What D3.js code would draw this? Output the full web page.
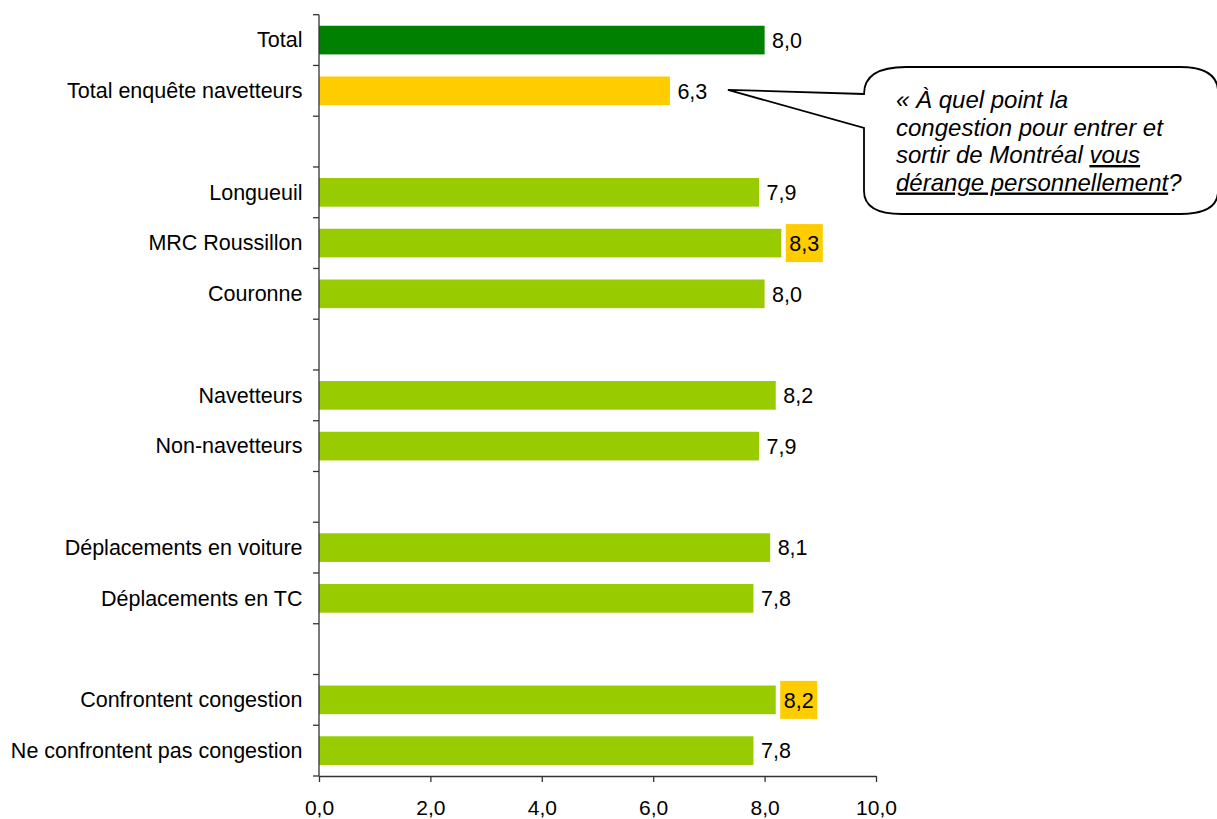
<!DOCTYPE html>
<html>
<head>
<meta charset="utf-8">
<script src="https://cdn.jsdelivr.net/npm/d3@7"></script>
<style>
    body { margin: 0; background: #fff; }
    svg { display: block; font-family: "Liberation Sans", Arial, sans-serif; }
</style>
</head>
<body>
<div id="barChart"></div>
<script>
// Rows of the chart, blank rows are spacers between the groups
const categories = [
    "Total", "Total enquête navetteurs", "gap1",
    "Longueuil", "MRC Roussillon", "Couronne", "gap2",
    "Navetteurs", "Non-navetteurs", "gap3",
    "Déplacements en voiture", "Déplacements en TC", "gap4",
    "Confrontent congestion", "Ne confrontent pas congestion"
];
const values = [8.0, 6.3, null, 7.9, 8.3, 8.0, null, 8.2, 7.9, null, 8.1, 7.8, null, 8.2, 7.8];
const barColors = ["#008000", "#FFCC00", null, "#99CC00", "#99CC00", "#99CC00", null,
    "#99CC00", "#99CC00", null, "#99CC00", "#99CC00", null, "#99CC00", "#99CC00"];
// value labels shown on a yellow box
const highlighted = ["MRC Roussillon", "Confrontent congestion"];
const xTicks = [0, 2, 4, 6, 8, 10];

const calloutLines = [
    [{ t: "« À quel point la" }],
    [{ t: "congestion pour entrer et" }],
    [{ t: "sortir de Montréal " }, { t: "vous", u: true }],
    [{ t: "dérange personnellement", u: true }, { t: "?" }]
];

const data = categories.map((c, i) => ({ cat: c, value: values[i], color: barColors[i] }));

const width = 1217, height = 819;
const plot = { left: 319, right: 876, top: 14.7, bottom: 776 };

const fr = d3.formatLocale({ decimal: ",", thousands: " ", grouping: [3], currency: ["", ""] });
const fmt = fr.format(".1f");

const svg = d3.select("#barChart")
    .append("svg")
    .attr("width", width)
    .attr("height", height);

// Scales
const x = d3.scaleLinear().domain([0, 10]).range([plot.left, plot.right]);
const y = d3.scaleBand()
    .domain(categories)
    .range([plot.top, plot.bottom])
    .paddingInner(0.435)
    .paddingOuter(0.2175);
const step = y.step();

// Bars
const rows = data.filter(d => d.value !== null);
svg.selectAll(".bar")
    .data(rows)
    .enter().append("rect")
    .attr("class", "bar")
    .attr("x", x(0))
    .attr("y", d => y(d.cat))
    .attr("width", d => x(d.value) - x(0))
    .attr("height", y.bandwidth())
    .attr("fill", d => d.color);

// highlight boxes behind some labels
svg.selectAll(".hl")
    .data(rows.filter(d => highlighted.includes(d.cat)))
    .enter().append("rect")
    .attr("class", "hl")
    .attr("x", d => x(d.value) + 4.5)
    .attr("y", d => y(d.cat) + y.bandwidth() / 2 - 19)
    .attr("width", 37)
    .attr("height", 38)
    .attr("fill", "#FFCC00");

// Value labels
svg.selectAll(".bar-text")
    .data(rows)
    .enter().append("text")
    .attr("class", "bar-text")
    .attr("x", d => x(d.value) + (highlighted.includes(d.cat) ? 8 : 7.5))
    .attr("y", d => y(d.cat) + y.bandwidth() / 2)
    .attr("dy", "0.36em")
    .style("font-size", "21.5px")
    .style("fill", "#000")
    .text(d => fmt(d.value));

// Y axis: line, ticks at band boundaries, labels
const axisColor = "#333";
svg.append("line")
    .attr("x1", plot.left).attr("x2", plot.left)
    .attr("y1", plot.top).attr("y2", plot.bottom)
    .attr("stroke", axisColor).attr("stroke-width", 1.3);

svg.selectAll(".ytick")
    .data(d3.range(categories.length + 1))
    .enter().append("line")
    .attr("class", "ytick")
    .attr("x1", plot.left - 6).attr("x2", plot.left)
    .attr("y1", i => plot.top + i * step)
    .attr("y2", i => plot.top + i * step)
    .attr("stroke", axisColor).attr("stroke-width", 1.3);

svg.selectAll(".ylabel")
    .data(data.filter(d => d.value !== null))
    .enter().append("text")
    .attr("class", "ylabel")
    .attr("x", 302.5)
    .attr("y", d => y(d.cat) + y.bandwidth() / 2)
    .attr("dy", "0.34em")
    .attr("text-anchor", "end")
    .style("font-size", "21.5px")
    .text(d => d.cat);

// X axis
const xAxis = svg.append("g")
    .attr("transform", `translate(0,${plot.bottom})`)
    .call(d3.axisBottom(x).tickValues(xTicks).tickSize(6).tickPadding(18).tickFormat(fmt).tickSizeOuter(0));
xAxis.select(".domain").attr("stroke", axisColor).attr("stroke-width", 1.3);
xAxis.selectAll(".tick line").attr("stroke", axisColor).attr("stroke-width", 1.3);
xAxis.selectAll("text")
    .style("font-size", "21px")
    .style("font-family", "'Liberation Sans', Arial, sans-serif")
    .attr("fill", "#000");

// Callout bubble pointing at "Total enquête navetteurs" label
const tipX = x(6.3) + 58;
const tipY = y("Total enquête navetteurs") + y.bandwidth() / 2 - 1;
const b = { l: 864, r: 1218, t: 67, btm: 214 };
const bubblePath = `
    M${b.l},94
    L${tipX},${tipY}
    L${b.l},128
    L${b.l},191
    Q${b.l},${b.btm} ${b.l + 38},${b.btm}
    L${b.r - 38},${b.btm}
    Q${b.r},${b.btm} ${b.r},191
    L${b.r},92
    Q${b.r},${b.t} ${b.r - 38},${b.t}
    L${b.l + 42},${b.t}
    Q${b.l},${b.t} ${b.l},94
    Z`;
svg.append("path")
    .attr("d", bubblePath)
    .attr("fill", "#fff")
    .attr("stroke", "#000")
    .attr("stroke-width", 1.8)
    .attr("stroke-linejoin", "miter");

const callout = svg.append("text")
    .attr("x", 896)
    .attr("y", 108)
    .style("font-size", "24px")
    .style("font-style", "italic");
calloutLines.forEach((line, i) => {
    line.forEach((part, j) => {
        const ts = callout.append("tspan").text(part.t);
        if (j === 0) ts.attr("x", 896).attr("y", 108 + i * 27.5);
        if (part.u) ts.style("text-decoration", "underline");
    });
});
</script>
</body>
</html>
